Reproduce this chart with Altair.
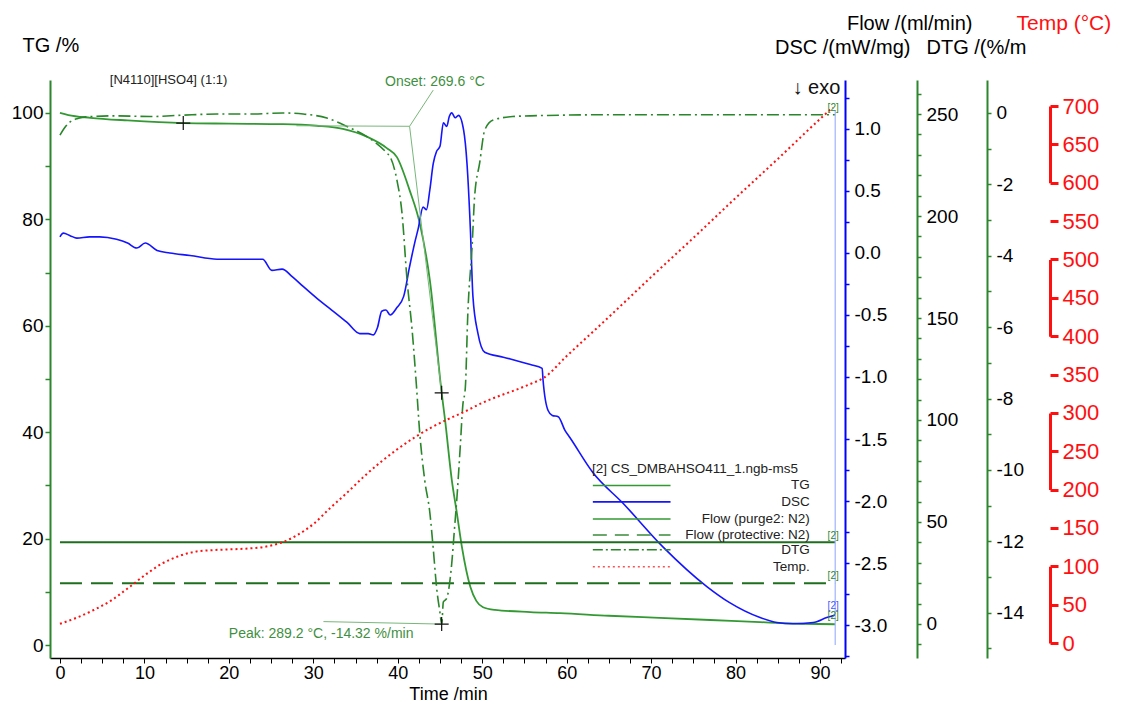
import altair as alt
import pandas as pd

# ---------------- data ----------------
tg_time = [0, 1, 3.6, 8, 14.6, 20, 26.4, 30.4, 33.5, 36.4, 38.7, 39.9, 41.4, 42.6, 43.8, 45.2, 45.6,
           46.4, 47.0, 47.6, 48.6, 49.3, 50.1, 51.5, 55.7, 59.2, 65, 71, 77, 82.9, 88, 91.8]
tg_value = [100, 99.6, 99.1, 98.6, 98.1, 98.0, 97.9, 97.6, 97.0, 95.5, 93.4, 91.7, 85.5, 79.3, 68.6, 47.4, 42.3,
            31.0, 24.8, 18.4, 10.9, 8.3, 7.1, 6.6, 6.2, 6.0, 5.5, 5.1, 4.7, 4.3, 4.0, 3.9]

dsc_time = [0, 0.4, 1.2, 2, 3.5, 4.7, 6.7, 8, 9.1, 10.1, 11.5, 13, 15.4, 18.6, 21, 24, 25.1, 26.3, 27.5, 28.8,
            30.5, 32.0, 34, 35.5, 36.5, 37.1, 37.6, 38.1, 38.6, 39.1, 39.9, 40.7, 41.4, 42.0, 42.4, 43.0, 43.4,
            43.8, 44.2, 44.6, 45.0, 45.4, 45.8, 46.1, 46.4, 46.8, 47.2, 47.8, 48.2, 48.6, 48.9, 49.5, 50.3, 52.5,
            55.7, 57.1, 57.2, 57.8, 58.3, 59.0, 59.8, 60.4, 63.1, 66.7, 71.4, 76.6, 79.3, 82.9, 84.9, 86.8, 89.2,
            90.8, 91.8]
dsc_value = [0.13, 0.16, 0.14, 0.12, 0.13, 0.13, 0.11, 0.08, 0.04, 0.08, 0.02, 0.0, -0.02, -0.05, -0.05, -0.05,
             -0.14, -0.13, -0.19, -0.27, -0.37, -0.45, -0.56, -0.65, -0.65, -0.66, -0.6, -0.47, -0.46, -0.5,
             -0.44, -0.35, -0.11, 0.08, 0.19, 0.37, 0.35, 0.51, 0.72, 0.82, 0.86, 1.05, 1.02, 1.1, 1.13, 1.09,
             1.11, 0.99, 0.72, 0.19, -0.35, -0.65, -0.8, -0.84, -0.9, -0.93, -1.02, -1.27, -1.31, -1.32, -1.43,
             -1.49, -1.77, -2.02, -2.37, -2.69, -2.82, -2.94, -2.98, -2.99, -2.98, -2.94, -2.92]

dtg_time = [0, 0.6, 1.2, 2.2, 3.6, 6.7, 10.7, 14.6, 18.6, 22.5, 26.4, 28.8, 31.6, 34, 36.4, 38.7, 39.1, 39.9,
            40.5, 41.1, 41.7, 42.2, 42.6, 43.2, 43.8, 44.2, 44.6, 45.0, 45.2, 45.4, 45.8, 46.0, 46.4, 46.7, 47.0,
            47.4, 47.7, 48.0, 48.3, 48.8, 49.1, 49.7, 50.3, 51.3, 53.6, 55.7, 65, 75, 85, 91.8]
dtg_value = [-0.62, -0.4, -0.25, -0.15, -0.1, -0.08, -0.1, -0.06, -0.03, -0.03, 0.0, -0.03, -0.14, -0.38, -0.67,
             -1.12, -1.23, -1.88, -2.8, -4.68, -6.08, -7.6, -8.96, -10.3, -11.2, -12.2, -13.3, -14.0, -14.32,
             -13.7, -13.6, -13.4, -12.6, -11.7, -10.8, -9.35, -8.2, -7.7, -5.6, -3.75, -2.35, -1.4, -0.48, -0.2,
             -0.1, -0.08, -0.05, -0.05, -0.05, -0.05]

temp_time = [0, 2, 4, 6, 8, 10, 12, 14, 16, 18, 20, 22, 24, 26, 28, 30, 32, 34, 36, 38, 40, 42, 44, 46, 48,
             50, 52, 54, 56, 57.2, 60, 65, 70, 75, 80, 85, 90, 91.5]
temp_value = [25, 33, 43, 55, 71, 88, 103, 113, 119, 121, 122, 123, 125, 130, 140, 155, 176, 196, 217, 236,
              253, 268, 281, 292, 302, 313, 322, 330, 339, 345, 374, 425, 477, 528, 580, 631, 683, 698]

flow_time = [0, 91.8]
flow_purge = [40, 40]
flow_protective = [20, 20]

# annotation anchors (time, axis value)
onset_point = (41.4, 97.5)
inflection_point = (45.2, 47.4)
tg_mark_point = (14.6, 98.1)
peak_point = (45.2, -14.32)

legend_names = ["TG", "DSC", "Flow (purge2: N2)", "Flow (protective: N2)", "DTG", "Temp."]
legend_title = "[2] CS_DMBAHSO411_1.ngb-ms5"

# ---------------- scales ----------------
X_DOM = [-1.18, 92.96]
TG_DOM = [-2.44, 106.2]
DSC_DOM = [-3.266, 1.395]
FLOW_DOM = [-16.7, 266.7]
DTG_DOM = [-15.27, 0.924]
TEMP_DOM = [0, 700]
TEMP_RANGE = [563, 26]

W, H = 795, 578
FONT = "Liberation Sans"
GREEN_AX = "#2d852d"
GREEN_TG = "#339933"
GREEN_DTG = "#2a862a"
GREEN_FLOW = "#1f6e1f"
GREEN_TXT = "#3f8f3f"
GREEN_THIN = "#79b679"
BLUE = "#1414ff"
RED = "#ff1010"
MINUS = "\u2212"

X_AXIS = alt.Axis(
    values=[i * 2.5 for i in range(0, 38)],
    labelExpr="datum.value % 10 == 0 ? datum.label : ''",
    domainColor="black", domainWidth=1.5, tickColor="black", tickSize=5, tickWidth=1,
    labelColor="black", labelFont=FONT, labelFontSize=18, labelPadding=1,
    labelFlush=False, labelOverlap=False, grid=False,
    title="Time /min", titleFont=FONT, titleFontSize=18, titleFontWeight="normal",
    titleColor="black", titleX=398, titleY=41, titleAlign="center", titleBaseline="alphabetic",
)


def common_axis(**kw):
    base = dict(grid=False, labelFont=FONT, labelFontSize=19, labelColor="black", labelFlush=False,
                labelOverlap=False, titleFont=FONT, titleFontSize=20, titleFontWeight="normal",
                titleColor="black", titleAngle=0, titleBaseline="middle")
    base.update(kw)
    return alt.Axis(**base)


TG_AXIS = common_axis(
    orient="left", values=list(range(0, 101, 10)),
    labelExpr="datum.value % 20 == 0 ? datum.label : ''",
    domainColor=GREEN_AX, domainWidth=2, tickColor=GREEN_AX, tickSize=5, tickWidth=1.5, labelPadding=2,
    title="TG /%", titleX=-28, titleY=-35, titleAlign="left",
)
DSC_AXIS = common_axis(
    orient="right", offset=0, values=[i * 0.25 for i in range(-13, 6)],
    labelExpr="abs(datum.value * 2 - round(datum.value * 2)) < 0.001 ? replace(format(datum.value, '.1f'), '"
              + MINUS + "', '-') : ''",
    domainColor="#0000ff", domainWidth=2, tickColor="#0000ff", tickSize=4, tickWidth=1.5, labelPadding=5,
    title="DSC /(mW/mg)", titleX=65, titleY=-33, titleAlign="right",
)
FLOW_AXIS = common_axis(
    orient="right", offset=72, values=list(range(-10, 261, 10)),
    labelExpr="datum.value % 50 == 0 && datum.value >= 0 ? datum.label : ''",
    domainColor=GREEN_AX, domainWidth=2, tickColor=GREEN_AX, tickSize=4, tickWidth=1.5, labelPadding=5,
    title="Flow /(ml/min)", titleX=55, titleY=-57, titleAlign="right",
)
DTG_AXIS = common_axis(
    orient="right", offset=142, values=list(range(-15, 1)),
    labelExpr="datum.value % 2 == 0 ? replace(format(datum.value, 'd'), '" + MINUS + "', '-') : ''",
    domainColor=GREEN_AX, domainWidth=2, tickColor=GREEN_AX, tickSize=4, tickWidth=1.5, labelPadding=5,
    title="DTG /(%/m", titleX=-61, titleY=-33, titleAlign="left",
)
TEMP_AXIS = common_axis(
    orient="right", offset=205, values=list(range(0, 701, 50)),
    domainColor=RED, domainWidth=3, domainDash=[76.7, 76.7], tickColor=RED, tickSize=8, tickWidth=3,
    labelColor=RED, labelFontSize=22, labelPadding=4,
    title="Temp (\u00b0C)", titleColor=RED, titleFontSize=21, titleX=-34, titleY=-57, titleAlign="left",
)


def xenc():
    return alt.X("t:Q", scale=alt.Scale(domain=X_DOM, nice=False, zero=False), axis=X_AXIS)


def yenc(dom, axis=None, rng=None):
    if rng is None:
        sc = alt.Scale(domain=dom, nice=False, zero=False)
    else:
        sc = alt.Scale(domain=dom, range=rng, nice=False, zero=False)
    return alt.Y("v:Q", scale=sc, axis=axis)


def line_layer(times, values, dom, color, width, dash=None, axis=None, rng=None, interp="monotone"):
    df = pd.DataFrame({"t": times, "v": values})
    kw = dict(color=color, strokeWidth=width, interpolate=interp)
    if dash:
        kw["strokeDash"] = dash
    return alt.Chart(df).mark_line(**kw).encode(x=xenc(), y=yenc(dom, axis, rng))


def seg_layer(t0, t1, v0, v1, dom, color, width, dash=None):
    df = pd.DataFrame({"t": t0, "t2": t1, "v": v0, "v2": v1})
    kw = dict(color=color, strokeWidth=width)
    if dash:
        kw["strokeDash"] = dash
    return alt.Chart(df).mark_rule(**kw).encode(x=xenc(), x2="t2:Q", y=yenc(dom), y2="v2:Q")


def text_layer(texts, ts, vs, dom, color, size, align="left"):
    df = pd.DataFrame({"t": ts, "v": vs, "label": texts})
    return alt.Chart(df).mark_text(align=align, baseline="middle", color=color, fontSize=size,
                                   font=FONT).encode(x=xenc(), y=yenc(dom), text="label:N")


def cross_layer(pts, dom):
    df = pd.DataFrame({"t": [p[0] for p in pts], "v": [p[1] for p in pts]})
    return alt.Chart(df).mark_point(shape="M-1,0L1,0M0,-1L0,1", size=196, filled=False, color="#111111",
                                    strokeWidth=1.2, opacity=1).encode(x=xenc(), y=yenc(dom))


layers = []
# main curves
layers.append(line_layer(tg_time, tg_value, TG_DOM, GREEN_TG, 1.8, axis=TG_AXIS))
layers.append(line_layer(dsc_time, dsc_value, DSC_DOM, BLUE, 1.6, axis=DSC_AXIS))
layers.append(line_layer(flow_time, flow_purge, FLOW_DOM, GREEN_FLOW, 2, axis=FLOW_AXIS, interp="linear"))
layers.append(line_layer(flow_time, flow_protective, FLOW_DOM, GREEN_FLOW, 2, dash=[22, 9], interp="linear"))
layers.append(line_layer(dtg_time, dtg_value, DTG_DOM, GREEN_DTG, 1.6, dash=[12, 4, 2, 4], axis=DTG_AXIS))
layers.append(line_layer(temp_time, temp_value, TEMP_DOM, RED, 2, dash=[2, 3], axis=TEMP_AXIS, rng=TEMP_RANGE))

# onset construction lines
layers.append(seg_layer([28, onset_point[0], onset_point[0]],
                        [onset_point[0], inflection_point[0], 44.2],
                        [97.6, onset_point[1], onset_point[1]],
                        [onset_point[1], inflection_point[1], 104.3], TG_DOM, GREEN_THIN, 1))
# peak line
layers.append(seg_layer([31.2], [peak_point[0]], [-14.25], [peak_point[1]], DTG_DOM, GREEN_THIN, 1))
# end marker
layers.append(seg_layer([91.8], [91.8], [100.5], [0], TG_DOM, "#9db4ff", 1.2))

# crosses
layers.append(cross_layer([tg_mark_point, inflection_point], TG_DOM))
layers.append(cross_layer([peak_point], DTG_DOM))

# annotations
layers.append(text_layer(["[N4110][HSO4] (1:1)"], [5.9], [106.2], TG_DOM, "#222222", 13))
layers.append(text_layer(["Onset: 269.6 \u00b0C"], [38.5], [105.8], TG_DOM, GREEN_TXT, 14))
layers.append(text_layer(["Peak: 289.2 \u00b0C, -14.32 %/min"], [20.0], [-14.6], DTG_DOM, GREEN_TXT, 14))
layers.append(text_layer(["\u2193 exo"], [92.4], [104.7], TG_DOM, "#111111", 20, align="right"))

# small [2] tags at curve ends
layers.append(text_layer(["[2]", "[2]", "[2]", "[2]"], [90.9, 90.9, 90.9, 90.9], [101.0, 20.4, 12.9, 5.4],
                         TG_DOM, GREEN_AX, 10))
layers.append(text_layer(["[2]"], [90.9], [7.3], TG_DOM, "#4455ff", 10))

# legend
leg_y = [30.0, 26.9, 23.7, 20.7, 17.9, 14.7]
leg_styles = [(GREEN_TG, 1.5, None), (BLUE, 1.8, None), (GREEN_TG, 1.5, None),
              ("#3a8a3a", 1.5, [14, 8]), (GREEN_DTG, 1.5, [10, 3, 2, 3]), ("#ff5050", 1.5, [2, 3])]
for yy, (col, wd, dash) in zip(leg_y, leg_styles):
    layers.append(seg_layer([63.1], [72.3], [yy], [yy], TG_DOM, col, wd, dash))
layers.append(text_layer(legend_names, [88.8] * len(legend_names), leg_y, TG_DOM, "#222222", 13.5,
                         align="right"))
layers.append(text_layer([legend_title], [63.0], [33.1], TG_DOM, "#222222", 13.5))

chart = alt.layer(*layers).resolve_scale(y="independent").properties(
    width=W, height=H,
    autosize=alt.AutoSizeParams(type="none"),
    padding={"left": 42, "top": 72, "right": 268, "bottom": 46},
    background="white",
).configure_view(stroke=None)

chart.save("out.html", embed_options={"renderer": "svg", "actions": False})
